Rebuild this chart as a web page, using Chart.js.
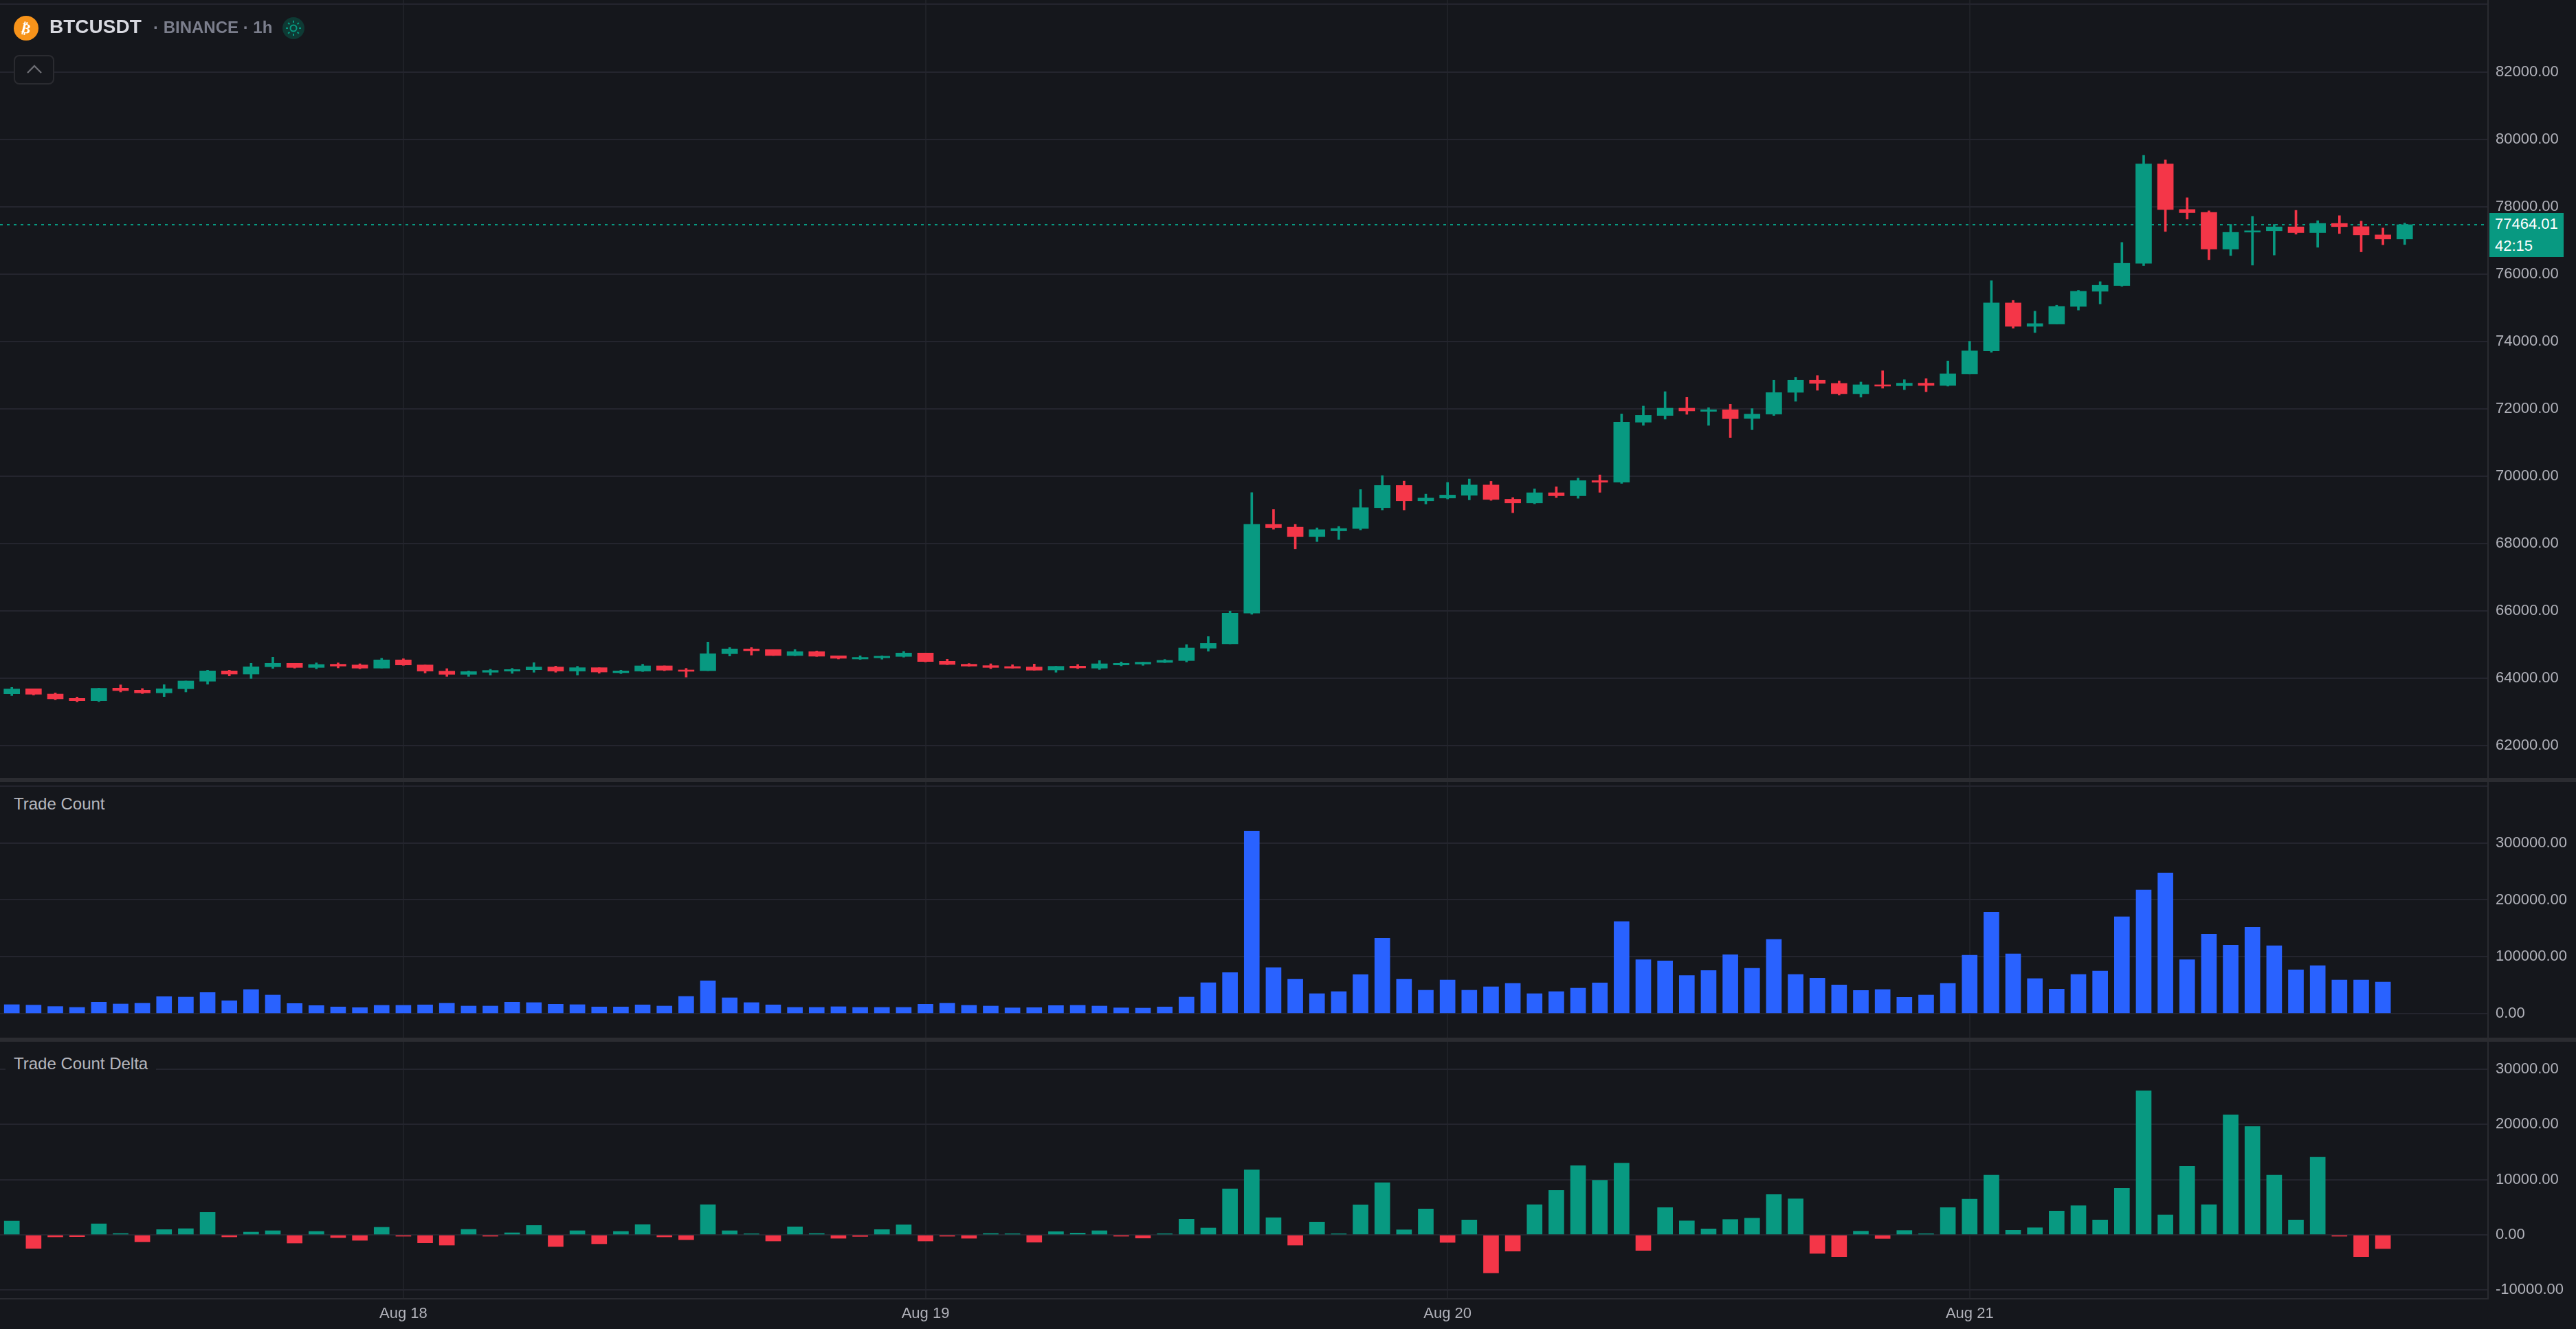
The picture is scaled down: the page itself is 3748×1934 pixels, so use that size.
<!DOCTYPE html>
<html><head><meta charset="utf-8">
<script src="https://cdn.jsdelivr.net/npm/chart.js@4"></script>
<style>
html,body{margin:0;padding:0;background:#15171c;width:3748px;height:1934px;overflow:hidden;font-family:"Liberation Sans",Arial,sans-serif}
canvas{position:absolute;left:0;display:block}
.abs{position:absolute}
.sep{position:absolute;left:0;width:3748px;height:6px;background:#2b2c31}
.ttl{position:absolute;left:8px;padding:0 12px;font-size:24px;line-height:30px;color:#b6b7be;background:#15171c;white-space:nowrap}
</style></head><body>
<canvas id="pricePane" width="3748" height="1132" style="top:0"></canvas>
<canvas id="countPane" width="3748" height="372" style="top:1138px"></canvas>
<canvas id="deltaPane" width="3748" height="418" style="top:1516px"></canvas>
<div class="sep" style="top:1132px"></div>
<div class="sep" style="top:1510px"></div>

<div class="abs" style="left:20px;top:23px;width:36px;height:36px;border-radius:50%;background:#F7931A"></div>
<div class="abs" style="left:20px;top:23px;width:36px;height:36px;color:#fff;font:bold 20px/36px 'DejaVu Sans';text-align:center;transform:rotate(14deg)">₿</div>
<div class="abs" style="left:72px;top:22px;font-weight:bold;font-size:28px;line-height:34px;color:#d8d9e0">BTCUSDT</div>
<div class="abs" style="left:223px;top:24px;font-weight:bold;font-size:24px;line-height:32px;color:#7b7e8c;white-space:nowrap">· BINANCE · 1h</div>
<svg class="abs" style="left:411px;top:25px" width="32" height="32" viewBox="0 0 32 32">
<circle cx="16" cy="16" r="16" fill="#0e3a34"/><circle cx="16" cy="16" r="4.5" fill="none" stroke="#089981" stroke-width="2"/>
<path d="M16 5v3M16 24v3M5 16h3M24 16h3M8.2 8.2l2.1 2.1M21.7 21.7l2.1 2.1M8.2 23.8l2.1-2.1M21.7 10.3l2.1-2.1" stroke="#089981" stroke-width="2" fill="none"/></svg>
<svg class="abs" style="left:20px;top:80px" width="59" height="43" viewBox="0 0 59 43">
<rect x="1" y="1" width="57" height="41" rx="7" fill="#15171c" stroke="#2a2b30" stroke-width="2"/>
<path d="M20 26l10-10 10 10" fill="none" stroke="#6c6d73" stroke-width="2.4"/></svg>

<div class="ttl" style="top:1155px">Trade Count</div>
<div class="ttl" style="top:1533px">Trade Count Delta</div>

<div class="abs" style="left:3622px;top:310px;width:108px;height:64px;background:#089981;color:#fff;font-size:22px">
<div style="position:absolute;left:8px;top:1px;line-height:30px">77464.01</div>
<div style="position:absolute;left:8px;top:33px;line-height:30px">42:15</div>
</div>

<script>
const open=[63544,63694,63537,63408,63340,63714,63653,63572,63694,63918,64224,64129,64347,64449,64326,64422,64401,64306,64551,64401,64218,64122,64184,64218,64258,64340,64218,64320,64170,64218,64374,64252,
64231,64734,64877,64857,64680,64796,64673,64578,64612,64653,64755,64510,64422,64381,64354,64340,64252,64367,64306,64401,64428,64476,64530,64898,65026,65938,
68571,68490,68211,68380,68449,69068,69727,69272,69353,69435,69741,69319,69210,69510,69421,69870,69822,71604,71803,72020,71925,
71973,71714,71844,72490,72850,72755,72449,72714,72687,72762,72694,73040,73720,75142,74448,74516,75040,75488,75658,76318,79269,77916,77828,76740,77243,77284,77399,77229,77501,77406,77161,77039];
const high=[63735,63694,63572,63449,63714,63810,63701,63816,63925,64245,64245,64449,64632,64449,64462,64462,64435,64598,64585,64401,64292,64224,64272,64299,64469,64367,64360,64320,64245,64422,64374,64299,
65081,64918,64918,64857,64857,64816,64673,64673,64673,64802,64755,64571,64442,64435,64408,64428,64360,64415,64530,64490,64483,64564,65006,65244,66000,69516,
69013,68571,68469,68510,69605,70020,69856,69469,69816,69918,69850,69367,69625,69687,69945,70040,71849,72082,72510,72340,72034,
72136,72007,72850,72932,72986,72830,72796,73129,72864,72898,73421,74006,75801,75216,74897,75074,75516,75774,76937,79521,79385,78263,77875,77474,77712,77474,77889,77583,77732,77569,77365,77510];
const low=[63490,63510,63368,63306,63313,63599,63551,63463,63599,63830,64075,64000,64299,64306,64286,64313,64286,64306,64388,64163,64061,64061,64102,64150,64184,64184,64102,64156,64143,64204,64231,64041,
64231,64666,64694,64680,64673,64653,64578,64564,64571,64632,64490,64408,64360,64292,64306,64245,64184,64292,64265,64374,64388,64469,64490,64809,65026,65905,
68428,67844,68061,68122,68408,69000,69000,69176,69326,69299,69285,68918,69183,69367,69346,69523,69788,71510,71694,71837,71510,
71150,71381,71803,72224,72551,72408,72347,72612,72571,72510,72673,73040,73680,74394,74264,74516,74931,75114,75638,76250,77263,77630,76427,76549,76264,76563,77182,76794,77202,76658,76869,76875];
const close=[63687,63531,63395,63340,63708,63640,63572,63694,63925,64224,64129,64347,64449,64326,64415,64367,64306,64551,64401,64218,64122,64204,64238,64265,64340,64218,64320,64190,64224,64374,64245,64211,
64734,64877,64823,64680,64796,64660,64598,64626,64660,64755,64503,64415,64367,64326,64306,64245,64360,64313,64435,64449,64483,64537,64904,65040,65938,68571,
68476,68211,68415,68449,69068,69727,69272,69353,69442,69741,69312,69210,69510,69421,69870,69822,71604,71808,72020,71939,71973,
71708,71844,72483,72850,72755,72449,72714,72673,72762,72694,73040,73720,75142,74448,74530,75040,75488,75665,76318,79269,77916,77821,76740,77236,77284,77399,77229,77501,77406,77161,77039,77464.01];
const tradeCount=[15709,14900,12487,10876,20140,16918,18126,29807,29000,37058,22557,42294,32627,17723,14098,11681,10473,14501,14501,15306,18126,13292,13292,20140,19334,16515,15709,11681,11681,15306,13292,30210,
57600,27793,19334,15306,10876,10876,12084,10876,10876,10876,16515,18126,14501,13292,10070,10473,14098,14501,13292,10070,9667,11681,29000,54378,72100,321032,
80963,60420,35044,38669,68476,132521,60420,41086,59212,41086,47128,53170,35044,38669,44711,53975,161926,94658,92644,66865,75726,103520,79754,130507,68879,62434,50350,40683,42294,28599,32627,53170,102714,178440,105131,61629,43100,68879,74921,170384,217512,247319,94658,139772,120437,151856,119229,76934,84185,59212,59212,55586];
const tradeDelta=[2490,-2449,-374,-332,1992,249,-1245,955,1121,4067,-374,498,747,-1494,623,-498,-996,1370,-249,-1453,-1868,996,-249,374,1702,-2117,747,-1619,623,1868,-374,-872,
5478,747,200,-1121,1453,250,-623,-291,955,1826,-1121,-249,-623,250,208,-1328,581,332,747,-249,-581,208,2822,1245,8342,11786,
3112,-1868,2324,200,5436,9462,913,4690,-1370,2698,-6889,-2947,5478,8051,12533,9877,12990,-2822,4939,2532,1079,2781,3030,7304,6516,-3362,-3943,664,-664,789,208,4939,6474,10832,830,1287,4316,5271,2698,8425,26104,3611,12409,5478,21746,19630,10832,2698,14069,-249,-3943,-2490];
const dayIndex=[18,42,66,90];
const dayLabels=['Aug 18','Aug 19','Aug 20','Aug 21'];
const priceTicks=[84000,82000,80000,78000,76000,74000,72000,70000,68000,66000,64000,62000];
const priceLabelled=[82000,80000,78000,76000,74000,72000,70000,68000,66000,64000,62000];
const countTicks=[400000,300000,200000,100000,0];
const countLabelled=[300000,200000,100000,0];
const deltaTicks=[30000,20000,10000,0,-10000];
const currentPrice=77464.01;

const GREEN='#089981',RED='#F43648',BLUE='#2962FF',GRIDH='#24252e',GRIDV='#1f2127',EDGE='#2a2b31',TXT='#b2b3bb';
const FONT={family:'"Liberation Sans",Arial,sans-serif',size:22};
const X_MIN=-0.5434,X_MAX=113.83,AXIS_W=128;

function noPad(s){s.paddingTop=0;s.paddingBottom=0;s.paddingLeft=0;s.paddingRight=0;}
function xScale(showLabels){
  return {type:'linear',min:X_MIN,max:X_MAX,offset:false,
    grid:{offset:false,color:GRIDV,lineWidth:2,drawTicks:false},
    border:{display:showLabels,color:EDGE,width:2},
    ticks:{display:showLabels,autoSkip:false,maxRotation:0,padding:9,color:TXT,font:FONT,
      callback:v=>dayLabels[dayIndex.indexOf(v)]||''},
    afterBuildTicks:s=>{s.ticks=dayIndex.map(v=>({value:v}));},
    afterFit:s=>{s.height=showLabels?44:0;noPad(s);}
  };
}
function yScale(min,max,ticks,labelled){
  return {type:'linear',position:'right',min,max,
    grid:{color:GRIDH,lineWidth:2,drawTicks:false},
    border:{display:true,color:EDGE,width:2},
    ticks:{autoSkip:false,padding:11,color:TXT,font:FONT,
      callback:v=>labelled.includes(v)?v.toFixed(2):''},
    afterBuildTicks:s=>{s.ticks=ticks.map(v=>({value:v}));},
    afterFit:s=>{s.width=AXIS_W;noPad(s);}
  };
}
const base={responsive:false,animation:false,devicePixelRatio:1,layout:{padding:0},
  plugins:{legend:{display:false},tooltip:{enabled:false},title:{display:false}},
  events:[]};
const barCommon={grouped:false,borderWidth:0,borderSkipped:false};
const candleColor=open.map((o,i)=>close[i]>=o?GREEN:RED);

new Chart(document.getElementById('pricePane'),{
  data:{datasets:[
    {type:'line',order:3,data:[{x:X_MIN,y:currentPrice},{x:X_MAX,y:currentPrice}],borderColor:GREEN,borderWidth:2,borderDash:[4,6],pointRadius:0},
    {type:'bar',order:2,...barCommon,barThickness:3,maxBarThickness:3,backgroundColor:candleColor,
      data:open.map((_,i)=>({x:i,y:[low[i],high[i]]}))},
    {type:'bar',order:1,...barCommon,barThickness:23,maxBarThickness:23,minBarLength:2,backgroundColor:candleColor,
      data:open.map((o,i)=>({x:i,y:[o,close[i]]}))}
  ]},
  options:{...base,scales:{x:xScale(false),y:yScale(61050,84131,priceTicks,priceLabelled)}}
});
new Chart(document.getElementById('countPane'),{
  data:{datasets:[{type:'bar',...barCommon,barThickness:22,maxBarThickness:22,backgroundColor:BLUE,
    data:tradeCount.map((v,i)=>({x:i,y:v}))}]},
  options:{...base,scales:{x:xScale(false),y:yScale(-42290,407200,countTicks,countLabelled)}}
});
new Chart(document.getElementById('deltaPane'),{
  data:{datasets:[{type:'bar',...barCommon,barThickness:22,maxBarThickness:22,
    backgroundColor:tradeDelta.map(v=>v>=0?GREEN:RED),
    data:tradeDelta.map((v,i)=>({x:i,y:v}))}]},
  options:{...base,scales:{x:xScale(true),y:yScale(-11582,34994,deltaTicks,deltaTicks)}}
});
</script>
</body></html>
